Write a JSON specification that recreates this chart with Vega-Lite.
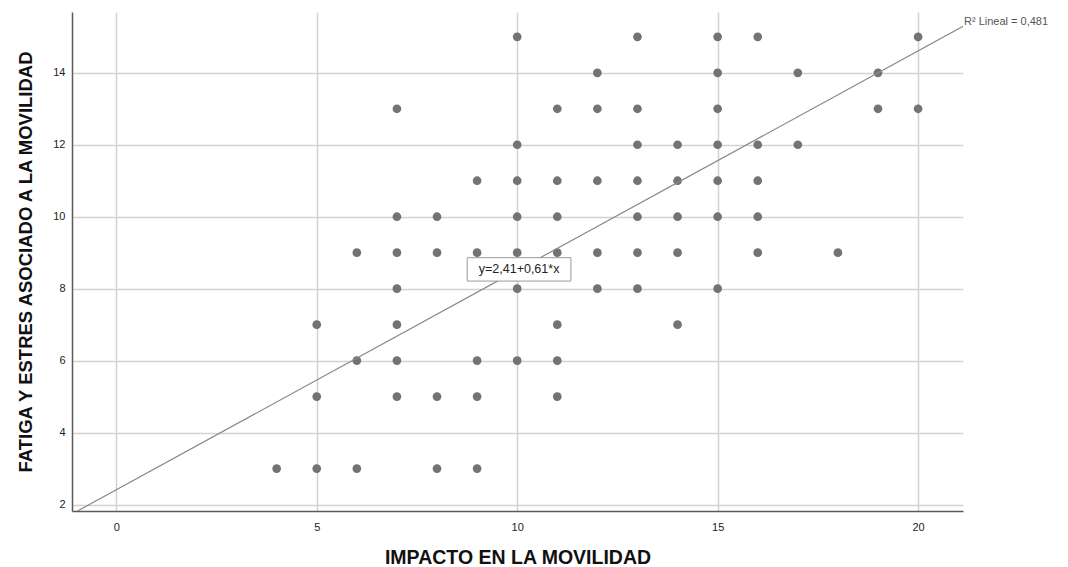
{
  "$schema": "https://vega.github.io/schema/vega-lite/v6.json",
  "width": 891,
  "height": 499,
  "autosize": {"type": "none"},
  "padding": {"left": 72, "top": 12, "right": 105, "bottom": 56},
  "background": "white",
  "config": {
    "view": {"stroke": null},
    "font": "Liberation Sans"
  },
  "data": {
    "values": [
      {"impacto": 4, "fatiga": 3},
      {"impacto": 5, "fatiga": 3}, {"impacto": 5, "fatiga": 5}, {"impacto": 5, "fatiga": 7},
      {"impacto": 6, "fatiga": 3}, {"impacto": 6, "fatiga": 6}, {"impacto": 6, "fatiga": 9},
      {"impacto": 7, "fatiga": 5}, {"impacto": 7, "fatiga": 6}, {"impacto": 7, "fatiga": 7}, {"impacto": 7, "fatiga": 8}, {"impacto": 7, "fatiga": 9}, {"impacto": 7, "fatiga": 10}, {"impacto": 7, "fatiga": 13},
      {"impacto": 8, "fatiga": 3}, {"impacto": 8, "fatiga": 5}, {"impacto": 8, "fatiga": 9}, {"impacto": 8, "fatiga": 10},
      {"impacto": 9, "fatiga": 3}, {"impacto": 9, "fatiga": 5}, {"impacto": 9, "fatiga": 6}, {"impacto": 9, "fatiga": 9}, {"impacto": 9, "fatiga": 11},
      {"impacto": 10, "fatiga": 6}, {"impacto": 10, "fatiga": 8}, {"impacto": 10, "fatiga": 9}, {"impacto": 10, "fatiga": 10}, {"impacto": 10, "fatiga": 11}, {"impacto": 10, "fatiga": 12}, {"impacto": 10, "fatiga": 15},
      {"impacto": 11, "fatiga": 5}, {"impacto": 11, "fatiga": 6}, {"impacto": 11, "fatiga": 7}, {"impacto": 11, "fatiga": 9}, {"impacto": 11, "fatiga": 10}, {"impacto": 11, "fatiga": 11}, {"impacto": 11, "fatiga": 13},
      {"impacto": 12, "fatiga": 8}, {"impacto": 12, "fatiga": 9}, {"impacto": 12, "fatiga": 11}, {"impacto": 12, "fatiga": 13}, {"impacto": 12, "fatiga": 14},
      {"impacto": 13, "fatiga": 8}, {"impacto": 13, "fatiga": 9}, {"impacto": 13, "fatiga": 10}, {"impacto": 13, "fatiga": 11}, {"impacto": 13, "fatiga": 12}, {"impacto": 13, "fatiga": 13}, {"impacto": 13, "fatiga": 15},
      {"impacto": 14, "fatiga": 7}, {"impacto": 14, "fatiga": 9}, {"impacto": 14, "fatiga": 10}, {"impacto": 14, "fatiga": 11}, {"impacto": 14, "fatiga": 12},
      {"impacto": 15, "fatiga": 8}, {"impacto": 15, "fatiga": 10}, {"impacto": 15, "fatiga": 11}, {"impacto": 15, "fatiga": 12}, {"impacto": 15, "fatiga": 13}, {"impacto": 15, "fatiga": 14}, {"impacto": 15, "fatiga": 15},
      {"impacto": 16, "fatiga": 9}, {"impacto": 16, "fatiga": 10}, {"impacto": 16, "fatiga": 11}, {"impacto": 16, "fatiga": 12}, {"impacto": 16, "fatiga": 15},
      {"impacto": 17, "fatiga": 12}, {"impacto": 17, "fatiga": 14},
      {"impacto": 18, "fatiga": 9},
      {"impacto": 19, "fatiga": 13}, {"impacto": 19, "fatiga": 14},
      {"impacto": 20, "fatiga": 13}, {"impacto": 20, "fatiga": 15}
    ]
  },
  "layer": [
    {
      "mark": {"type": "circle", "size": 76, "color": "#737373", "opacity": 1},
      "encoding": {
        "x": {
          "field": "impacto", "type": "quantitative",
          "scale": {"domain": [-1.105, 21.12], "nice": false, "zero": false},
          "axis": {
            "title": "IMPACTO EN LA MOVILIDAD",
            "values": [0, 5, 10, 15, 20],
            "grid": true, "gridColor": "#d2d2d2", "gridWidth": 1.5,
            "domainColor": "#5a5a5a", "domainWidth": 1.5,
            "ticks": false,
            "labelFontSize": 11, "labelColor": "#222222", "labelPadding": 10,
            "labelFont": "Liberation Sans",
            "titleFont": "Liberation Sans", "titleFontSize": 19.5, "titleFontWeight": "bold",
            "titleColor": "#111111", "titlePadding": 16
          }
        },
        "y": {
          "field": "fatiga", "type": "quantitative",
          "scale": {"domain": [1.82, 15.69], "nice": false, "zero": false},
          "axis": {
            "title": "FATIGA Y ESTRES ASOCIADO A LA MOVILIDAD",
            "values": [2, 4, 6, 8, 10, 12, 14],
            "grid": true, "gridColor": "#d2d2d2", "gridWidth": 1.5,
            "domainColor": "#5a5a5a", "domainWidth": 1.5,
            "ticks": false,
            "labelFontSize": 11, "labelColor": "#222222", "labelPadding": 7,
            "labelFont": "Liberation Sans",
            "titleFont": "Liberation Sans", "titleFontSize": 18.5, "titleFontWeight": "bold",
            "titleColor": "#111111", "titlePadding": 17
          }
        }
      }
    },
    {
      "data": {"values": [{}]},
      "mark": {"type": "rule", "color": "#8a8a8a", "strokeWidth": 1.2, "clip": true},
      "encoding": {
        "x": {"datum": -1.105, "type": "quantitative"},
        "y": {"datum": 1.736, "type": "quantitative"},
        "x2": {"datum": 21.12},
        "y2": {"datum": 15.293}
      }
    },
    {
      "data": {"values": [{}]},
      "mark": {"type": "rect", "fill": "white", "stroke": "#9a9a9a", "strokeWidth": 1},
      "encoding": {
        "x": {"datum": 8.753, "type": "quantitative"},
        "x2": {"datum": 11.34},
        "y": {"datum": 8.861, "type": "quantitative"},
        "y2": {"datum": 8.211}
      }
    },
    {
      "data": {"values": [{}]},
      "mark": {"type": "text", "text": "y=2,41+0,61*x", "fontSize": 12.5, "color": "#222222", "align": "center", "baseline": "middle", "font": "Liberation Sans"},
      "encoding": {
        "x": {"datum": 10.047, "type": "quantitative"},
        "y": {"datum": 8.536, "type": "quantitative"}
      }
    },
    {
      "data": {"values": [{}]},
      "mark": {"type": "text", "text": "R² Lineal = 0,481", "fontSize": 11, "color": "#555555", "align": "left", "baseline": "middle", "dx": 1, "font": "Liberation Sans"},
      "encoding": {
        "x": {"datum": 21.12, "type": "quantitative"},
        "y": {"datum": 15.42, "type": "quantitative"}
      }
    }
  ]
}
